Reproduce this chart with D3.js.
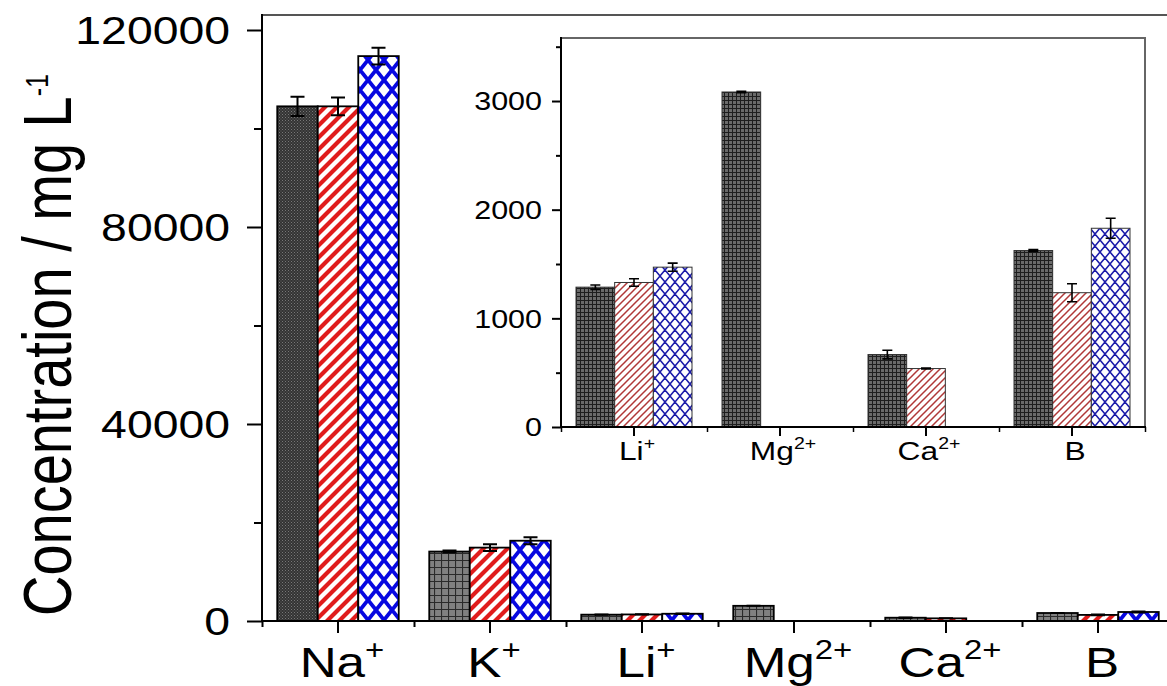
<!DOCTYPE html>
<html><head><meta charset="utf-8">
<script src="https://cdn.jsdelivr.net/npm/d3@7"></script>
<style>
body{margin:0;background:#fff}
svg{display:block}
text{font-family:"Liberation Sans",Arial,sans-serif;fill:#000}
</style>
</head><body>
<svg id="c" width="1167" height="686"></svg>
<script>
// ---------- data ----------
const categories = ["Na+", "K+", "Li+", "Mg2+", "Ca2+", "B"];
const catBase = ["Na", "K", "Li", "Mg", "Ca", "B"];
const catSup = ["+", "+", "+", "2+", "2+", ""];
const series1 = [104500, 14100, 1287, 3083, 667, 1624];
const series2 = [104500, 14900, 1330, null, 538, 1236];
const series3 = [114700, 16300, 1471, null, null, 1829];
const error1 = [1950, 200, 20, 6, 40, 8];
const error2 = [1800, 680, 34, null, 4, 83];
const error3 = [1700, 700, 37, null, null, 92];
const mainTicks = [0, 40000, 80000, 120000];
const mainMinorTicks = [20000, 60000, 100000];
const insetCategories = ["Li+", "Mg2+", "Ca2+", "B"];
const insetTicks = [0, 1000, 2000, 3000];
const insetMinorTicks = [500, 1500, 2500, 3500];
const yLabel = "Concentration / mg L";
const yLabelSup = "-1";

const SX = 1.22; // horizontal text stretch of the original figure
const svg = d3.select("#c");
const defs = svg.append("defs");

function pat(id, w, h, bg, draw) {
  const p = defs.append("pattern").attr("id", id).attr("patternUnits", "userSpaceOnUse")
    .attr("width", w).attr("height", h);
  p.append("rect").attr("width", w).attr("height", h).attr("fill", bg);
  draw(p);
}
// main patterns
pat("pDense", 3, 3, "#333", p => {
  p.append("rect").attr("x", 0).attr("y", 0).attr("width", 1).attr("height", 1).attr("fill", "#777");
  p.append("rect").attr("x", 1.5).attr("y", 1.5).attr("width", 1).attr("height", 1).attr("fill", "#666");
});
pat("pGrid", 7, 7, "#808080", p => {
  p.append("path").attr("d", "M0,0.5H7M0.5,0V7").attr("stroke", "#2a2a2a").attr("stroke-width", 1.2);
});
pat("pRed", 12, 12, "#fff", p => {
  p.append("path").attr("d", "M-3,15L15,-3M-9,9L9,-9M3,21L21,3").attr("stroke", "#e01c1c").attr("stroke-width", 4.2);
});
pat("pBlue", 16, 20, "#fff", p => {
  p.append("path").attr("d", "M0,0L16,20M16,0L0,20M-8,10L0,20M-8,10L0,0M24,10L16,0M24,10L16,20")
    .attr("stroke", "#0808e0").attr("stroke-width", 3.8);
});
// inset patterns
pat("iGrid", 4, 4, "#6a6a6a", p => {
  p.append("path").attr("d", "M0,0.5H4M0.5,0V4").attr("stroke", "#1e1e1e").attr("stroke-width", 1);
});
pat("iRed", 7, 7, "#fff", p => {
  p.append("path").attr("d", "M-2,9L9,-2M-5,5L5,-5M2,12L12,2").attr("stroke", "#b03838").attr("stroke-width", 1.5);
});
pat("iBlue", 10, 12, "#fff", p => {
  p.append("path").attr("d", "M0,0L10,12M10,0L0,12M-5,6L0,12M-5,6L0,0M15,6L10,0M15,6L10,12")
    .attr("stroke", "#1a1aa8").attr("stroke-width", 1.5);
});

const allSeries = [series1, series2, series3];
const allErr = [error1, error2, error3];

// ---------- main chart ----------
const x = d3.scaleBand().domain(categories).range([262, 1174]);
const y = d3.scaleLinear().domain([0, 120000]).range([621, 30]);
const inner = d3.scaleBand().domain([0, 1, 2]).range([-60.75, 60.75]);
const mainFill = ["pGrid", "pRed", "pBlue"];

const bars = [];
categories.forEach((c, ci) => {
  allSeries.forEach((s, si) => {
    if (s[ci] == null) return;
    bars.push({c, ci, si, v: s[ci], e: allErr[si][ci]});
  });
});

const gMain = svg.append("g");
gMain.selectAll("rect.bar").data(bars).join("rect").attr("class", "bar")
  .attr("x", d => x(d.c) + x.bandwidth() / 2 + inner(d.si))
  .attr("width", inner.bandwidth())
  .attr("y", d => y(d.v))
  .attr("height", d => y(0) - y(d.v))
  .attr("fill", d => (d.ci === 0 && d.si === 0) ? "url(#pDense)" : `url(#${mainFill[d.si]})`)
  .attr("stroke", "#000").attr("stroke-width", 1.8);

const errBars = bars.filter(d => d.e != null && d.e > 0);
const ex = d => x(d.c) + x.bandwidth() / 2 + inner(d.si) + inner.bandwidth() / 2;
gMain.selectAll("path.err").data(errBars).join("path").attr("class", "err")
  .attr("d", d => {
    const cx = ex(d), y1 = y(d.v + d.e), y2 = y(d.v - d.e), w = 7;
    return `M${cx - w},${y1}H${cx + w}M${cx},${y1}V${y2}M${cx - w},${y2}H${cx + w}`;
  })
  .attr("stroke", "#000").attr("stroke-width", 2).attr("fill", "none");

// y axis
const yAx = svg.append("g").attr("transform", "translate(262,0)")
  .call(d3.axisLeft(y).tickValues(mainTicks).tickSize(15).tickSizeOuter(0).tickFormat(d3.format("d")));
yAx.select(".domain").remove();
yAx.selectAll(".tick line").attr("stroke", "#000").attr("stroke-width", 2);
yAx.selectAll(".tick text").attr("font-size", 38).attr("x", -32 / SX).attr("dy", "0.35em")
  .attr("text-anchor", "end").attr("transform", `scale(${SX},1)`).attr("fill", "#000");
const yMin = svg.append("g").attr("transform", "translate(262,0)")
  .call(d3.axisLeft(y).tickValues(mainMinorTicks).tickSize(8).tickSizeOuter(0).tickFormat(""));
yMin.select(".domain").remove();
yMin.selectAll(".tick line").attr("stroke", "#000").attr("stroke-width", 2);

// x axis
const xAx = svg.append("g").attr("transform", "translate(0,621)")
  .call(d3.axisBottom(x).tickSize(12).tickSizeOuter(0).tickFormat(""));
xAx.select(".domain").remove();
xAx.selectAll(".tick line").attr("stroke", "#000").attr("stroke-width", 2);
const xb = d3.scaleLinear().domain([0, categories.length]).range(x.range());
const xMin = svg.append("g").attr("transform", "translate(0,621)")
  .call(d3.axisBottom(xb).tickValues(d3.range(categories.length + 1)).tickSize(6).tickSizeOuter(0).tickFormat(""));
xMin.select(".domain").remove();
xMin.selectAll(".tick line").attr("stroke", "#000").attr("stroke-width", 2);

// spines
svg.append("line").attr("x1", 262).attr("x2", 1167).attr("y1", 15).attr("y2", 15)
  .attr("stroke", "#555").attr("stroke-width", 2);
svg.append("line").attr("x1", 262).attr("x2", 262).attr("y1", 14).attr("y2", 622)
  .attr("stroke", "#000").attr("stroke-width", 2);
svg.append("line").attr("x1", 261).attr("x2", 1167).attr("y1", 621).attr("y2", 621)
  .attr("stroke", "#000").attr("stroke-width", 2);

// x labels
function catLabel(parent, cx, by, ci, fs, sfs, rise) {
  const t = parent.append("g").attr("transform", `translate(${cx},${by}) scale(${SX},1)`)
    .append("text").attr("text-anchor", "middle").attr("font-size", fs);
  t.append("tspan").text(catBase[ci]);
  if (catSup[ci]) t.append("tspan").attr("font-size", sfs).attr("dy", -rise).text(catSup[ci]);
}
categories.forEach((c, ci) => catLabel(svg, x(c) + x.bandwidth() / 2 + 4, 677, ci, 42, 27, 18));

// y label
const yl = svg.append("g").attr("transform", `translate(71,616) scale(${SX},1) rotate(-90)`)
  .append("text").attr("font-size", 56).attr("text-anchor", "start");
yl.append("tspan").text(yLabel);
yl.append("tspan").attr("font-size", 25).attr("dy", -19).text(yLabelSup);

// ---------- inset ----------
const ix = d3.scaleBand().domain(insetCategories).range([561, 1145]);
const iy = d3.scaleLinear().domain([0, 3580]).range([427, 38]);
const iinner = d3.scaleBand().domain([0, 1, 2]).range([-58, 58]);
const insetFill = ["iGrid", "iRed", "iBlue"];
const gIn = svg.append("g");
gIn.append("rect").attr("x", 561).attr("y", 38).attr("width", 584).attr("height", 389).attr("fill", "#fff");

const ibars = bars.filter(d => insetCategories.includes(d.c));
gIn.selectAll("rect.ibar").data(ibars).join("rect").attr("class", "ibar")
  .attr("x", d => ix(d.c) + ix.bandwidth() / 2 + iinner(d.si))
  .attr("width", iinner.bandwidth())
  .attr("y", d => iy(d.v))
  .attr("height", d => iy(0) - iy(d.v))
  .attr("fill", d => `url(#${insetFill[d.si]})`)
  .attr("stroke", "#333").attr("stroke-width", 1);
const iex = d => ix(d.c) + ix.bandwidth() / 2 + iinner(d.si) + iinner.bandwidth() / 2;
gIn.selectAll("path.ierr").data(ibars.filter(d => d.e != null && d.e > 0)).join("path").attr("class", "ierr")
  .attr("d", d => {
    const cx = iex(d), y1 = iy(d.v + d.e), y2 = iy(d.v - d.e), w = 5;
    return `M${cx - w},${y1}H${cx + w}M${cx},${y1}V${y2}M${cx - w},${y2}H${cx + w}`;
  })
  .attr("stroke", "#000").attr("stroke-width", 1.6).attr("fill", "none");

const iyAx = svg.append("g").attr("transform", "translate(561,0)")
  .call(d3.axisLeft(iy).tickValues(insetTicks).tickSize(9).tickSizeOuter(0).tickFormat(d3.format("d")));
iyAx.select(".domain").remove();
iyAx.selectAll(".tick line").attr("stroke", "#000").attr("stroke-width", 2);
iyAx.selectAll(".tick text").attr("font-size", 25).attr("x", -19 / SX).attr("dy", "0.35em")
  .attr("text-anchor", "end").attr("transform", `scale(${SX},1)`).attr("fill", "#000");
const iyMin = svg.append("g").attr("transform", "translate(561,0)")
  .call(d3.axisLeft(iy).tickValues(insetMinorTicks).tickSize(5).tickSizeOuter(0).tickFormat(""));
iyMin.select(".domain").remove();
iyMin.selectAll(".tick line").attr("stroke", "#000").attr("stroke-width", 2);

const ixAx = svg.append("g").attr("transform", "translate(0,427)")
  .call(d3.axisBottom(ix).tickSize(9).tickSizeOuter(0).tickFormat(""));
ixAx.select(".domain").remove();
ixAx.selectAll(".tick line").attr("stroke", "#000").attr("stroke-width", 2);
const ixb = d3.scaleLinear().domain([0, insetCategories.length]).range(ix.range());
const ixMin = svg.append("g").attr("transform", "translate(0,427)")
  .call(d3.axisBottom(ixb).tickValues(d3.range(insetCategories.length + 1)).tickSize(5).tickSizeOuter(0).tickFormat(""));
ixMin.select(".domain").remove();
ixMin.selectAll(".tick line").attr("stroke", "#000").attr("stroke-width", 1.5);

svg.append("path").attr("d", "M561,38H1145V427").attr("fill", "none").attr("stroke", "#666").attr("stroke-width", 2);
svg.append("line").attr("x1", 561).attr("x2", 561).attr("y1", 37).attr("y2", 428).attr("stroke", "#000").attr("stroke-width", 2);
svg.append("line").attr("x1", 560).attr("x2", 1146).attr("y1", 427).attr("y2", 427).attr("stroke", "#000").attr("stroke-width", 2);

insetCategories.forEach(c => {
  const ci = categories.indexOf(c);
  catLabel(svg, ix(c) + ix.bandwidth() / 2 + 3, 460, ci, 26, 16, 11);
});
</script>
</body></html>
